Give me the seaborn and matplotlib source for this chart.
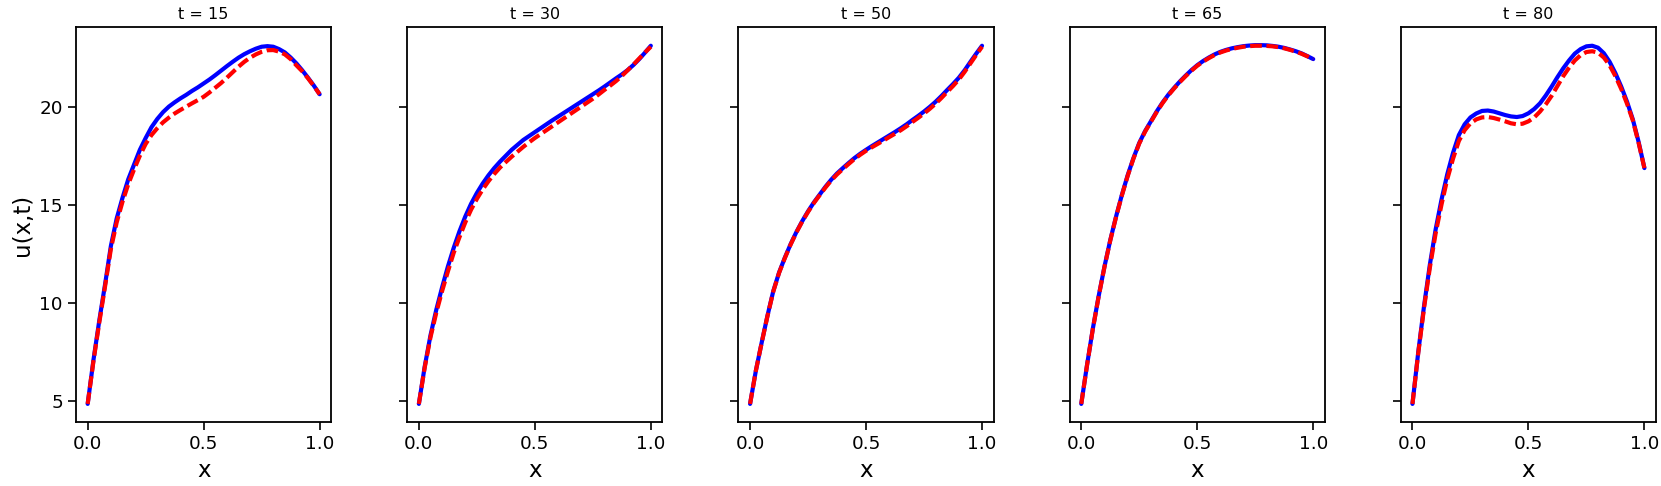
import numpy as np
import pandas as pd
import matplotlib
matplotlib.use("Agg")
import matplotlib.pyplot as plt
import seaborn as sns

x_vals = [0.0, 0.025, 0.05, 0.075, 0.1, 0.125, 0.15, 0.175, 0.2, 0.225,
          0.25, 0.275, 0.3, 0.325, 0.35, 0.375, 0.4, 0.425, 0.45, 0.475,
          0.5, 0.525, 0.55, 0.575, 0.6, 0.625, 0.65, 0.675, 0.7, 0.725,
          0.75, 0.775, 0.8, 0.825, 0.85, 0.875, 0.9, 0.925, 0.95, 0.975, 1.0]
times = [15, 30, 50, 65, 80]

exact_t15 = [4.86, 7.1, 9.1, 10.95, 12.9, 14.3, 15.35, 16.3, 17.05, 17.8,
             18.4, 18.95, 19.37, 19.72, 20.0, 20.22, 20.42, 20.6, 20.8, 20.98,
             21.18, 21.38, 21.6, 21.83, 22.06, 22.28, 22.49, 22.67, 22.82, 22.95,
             23.05, 23.08, 23.05, 22.93, 22.76, 22.5, 22.2, 21.85, 21.47, 21.07, 20.63]
pred_t15 = [4.86, 7.05, 9.0, 10.85, 12.75, 14.1, 15.15, 16.05, 16.8, 17.5,
            18.1, 18.55, 18.9, 19.2, 19.44, 19.65, 19.83, 20.0, 20.17, 20.33,
            20.5, 20.72, 20.96, 21.2, 21.47, 21.75, 22.03, 22.28, 22.49, 22.66,
            22.79, 22.87, 22.88, 22.8, 22.66, 22.42, 22.1, 21.8, 21.44, 21.05, 20.63]

exact_t30 = [4.86, 6.75, 8.35, 9.65, 10.79, 11.85, 12.8, 13.65, 14.4, 15.05,
             15.6, 16.08, 16.5, 16.87, 17.2, 17.5, 17.8, 18.05, 18.3, 18.5,
             18.7, 18.9, 19.1, 19.3, 19.49, 19.68, 19.87, 20.06, 20.25, 20.44,
             20.63, 20.82, 21.02, 21.23, 21.44, 21.64, 21.86, 22.12, 22.42, 22.75, 23.1]
pred_t30 = [4.86, 6.7, 8.25, 9.5, 10.6, 11.6, 12.55, 13.35, 14.1, 14.75,
            15.3, 15.78, 16.2, 16.57, 16.9, 17.18, 17.45, 17.7, 17.95, 18.18,
            18.4, 18.6, 18.8, 19.0, 19.2, 19.4, 19.6, 19.8, 20.0, 20.2,
            20.4, 20.62, 20.85, 21.07, 21.3, 21.56, 21.85, 22.14, 22.45, 22.76, 23.05]

exact_t50 = [4.86, 6.55, 7.98, 9.35, 10.6, 11.55, 12.31, 13.0, 13.62, 14.17,
             14.67, 15.12, 15.52, 15.92, 16.28, 16.6, 16.87, 17.13, 17.38, 17.6,
             17.8, 17.99, 18.17, 18.35, 18.53, 18.71, 18.9, 19.1, 19.32, 19.53,
             19.75, 19.99, 20.25, 20.54, 20.85, 21.15, 21.47, 21.85, 22.28, 22.7, 23.1]
pred_t50 = [4.86, 6.55, 7.97, 9.33, 10.58, 11.53, 12.29, 12.98, 13.6, 14.15,
            14.64, 15.09, 15.49, 15.88, 16.24, 16.55, 16.82, 17.08, 17.33, 17.55,
            17.75, 17.93, 18.1, 18.27, 18.45, 18.62, 18.8, 19.0, 19.22, 19.43,
            19.65, 19.89, 20.15, 20.44, 20.75, 21.05, 21.38, 21.77, 22.2, 22.63, 23.05]

exact_t65 = [4.86, 6.85, 8.7, 10.35, 11.85, 13.2, 14.4, 15.5, 16.5, 17.38,
             18.15, 18.75, 19.25, 19.75, 20.2, 20.6, 20.95, 21.28, 21.58, 21.86,
             22.11, 22.32, 22.5, 22.66, 22.79, 22.89, 22.97, 23.03, 23.08, 23.11,
             23.13, 23.13, 23.12, 23.09, 23.05, 22.99, 22.91, 22.82, 22.71, 22.57, 22.42]
pred_t65 = [4.86, 6.84, 8.68, 10.33, 11.83, 13.18, 14.38, 15.47, 16.47, 17.35,
            18.12, 18.72, 19.22, 19.72, 20.17, 20.57, 20.92, 21.25, 21.55, 21.83,
            22.08, 22.29, 22.47, 22.63, 22.76, 22.86, 22.94, 23.0, 23.05, 23.08,
            23.1, 23.1, 23.09, 23.07, 23.03, 22.97, 22.89, 22.8, 22.69, 22.56, 22.42]

exact_t80 = [4.86, 7.5, 9.85, 11.95, 13.75, 15.25, 16.55, 17.65, 18.55, 19.1,
             19.45, 19.65, 19.78, 19.8, 19.75, 19.66, 19.57, 19.5, 19.47, 19.52,
             19.66, 19.88, 20.17, 20.57, 21.02, 21.5, 21.95, 22.35, 22.7, 22.93,
             23.07, 23.1, 23.0, 22.72, 22.28, 21.7, 21.02, 20.25, 19.35, 18.2, 16.87]
pred_t80 = [4.86, 7.45, 9.75, 11.8, 13.55, 15.0, 16.3, 17.35, 18.25, 18.8,
            19.15, 19.35, 19.45, 19.47, 19.42, 19.34, 19.25, 19.15, 19.1, 19.13,
            19.25, 19.45, 19.75, 20.12, 20.55, 21.05, 21.55, 21.98, 22.35, 22.62,
            22.78, 22.82, 22.75, 22.5, 22.1, 21.55, 20.9, 20.15, 19.3, 18.15, 16.87]

exact_all = [exact_t15, exact_t30, exact_t50, exact_t65, exact_t80]
pred_all = [pred_t15, pred_t30, pred_t50, pred_t65, pred_t80]

sns.set_style("ticks")
plt.rcParams.update({
    "font.family": ["DejaVu Sans"],
    "axes.edgecolor": "black",
    "axes.linewidth": 1.3,
    "xtick.color": "black",
    "ytick.color": "black",
    "xtick.major.size": 6,
    "ytick.major.size": 6,
    "xtick.major.width": 1.2,
    "ytick.major.width": 1.2,
    "text.color": "black",
    "axes.labelcolor": "black",
    "lines.solid_capstyle": "round",
})

fig, axes = plt.subplots(1, 5, figsize=(16.61, 4.86), dpi=100, sharey=True)
fig.subplots_adjust(left=0.0458, right=0.997, top=0.944, bottom=0.132, wspace=0.298)

for i, ax in enumerate(axes):
    df = pd.DataFrame({"x": x_vals, "exact": exact_all[i], "pred": pred_all[i]})
    sns.lineplot(data=df, x="x", y="exact", ax=ax, color="blue", linewidth=3.0)
    sns.lineplot(data=df, x="x", y="pred", ax=ax, color="red", linewidth=3.0,
                 linestyle=(0, (2.8, 1.1)))
    ax.set_title(f"t = {times[i]}", fontsize=11.5, pad=6)
    ax.set_xlabel("x", fontsize=16.5)
    ax.set_ylabel("u(x,t)" if i == 0 else "", fontsize=16.5)
    ax.set_xticks([0.0, 0.5, 1.0])
    ax.set_yticks([5, 10, 15, 20])
    ax.tick_params(labelsize=13.2)

fig.savefig("out.png", dpi=100)
